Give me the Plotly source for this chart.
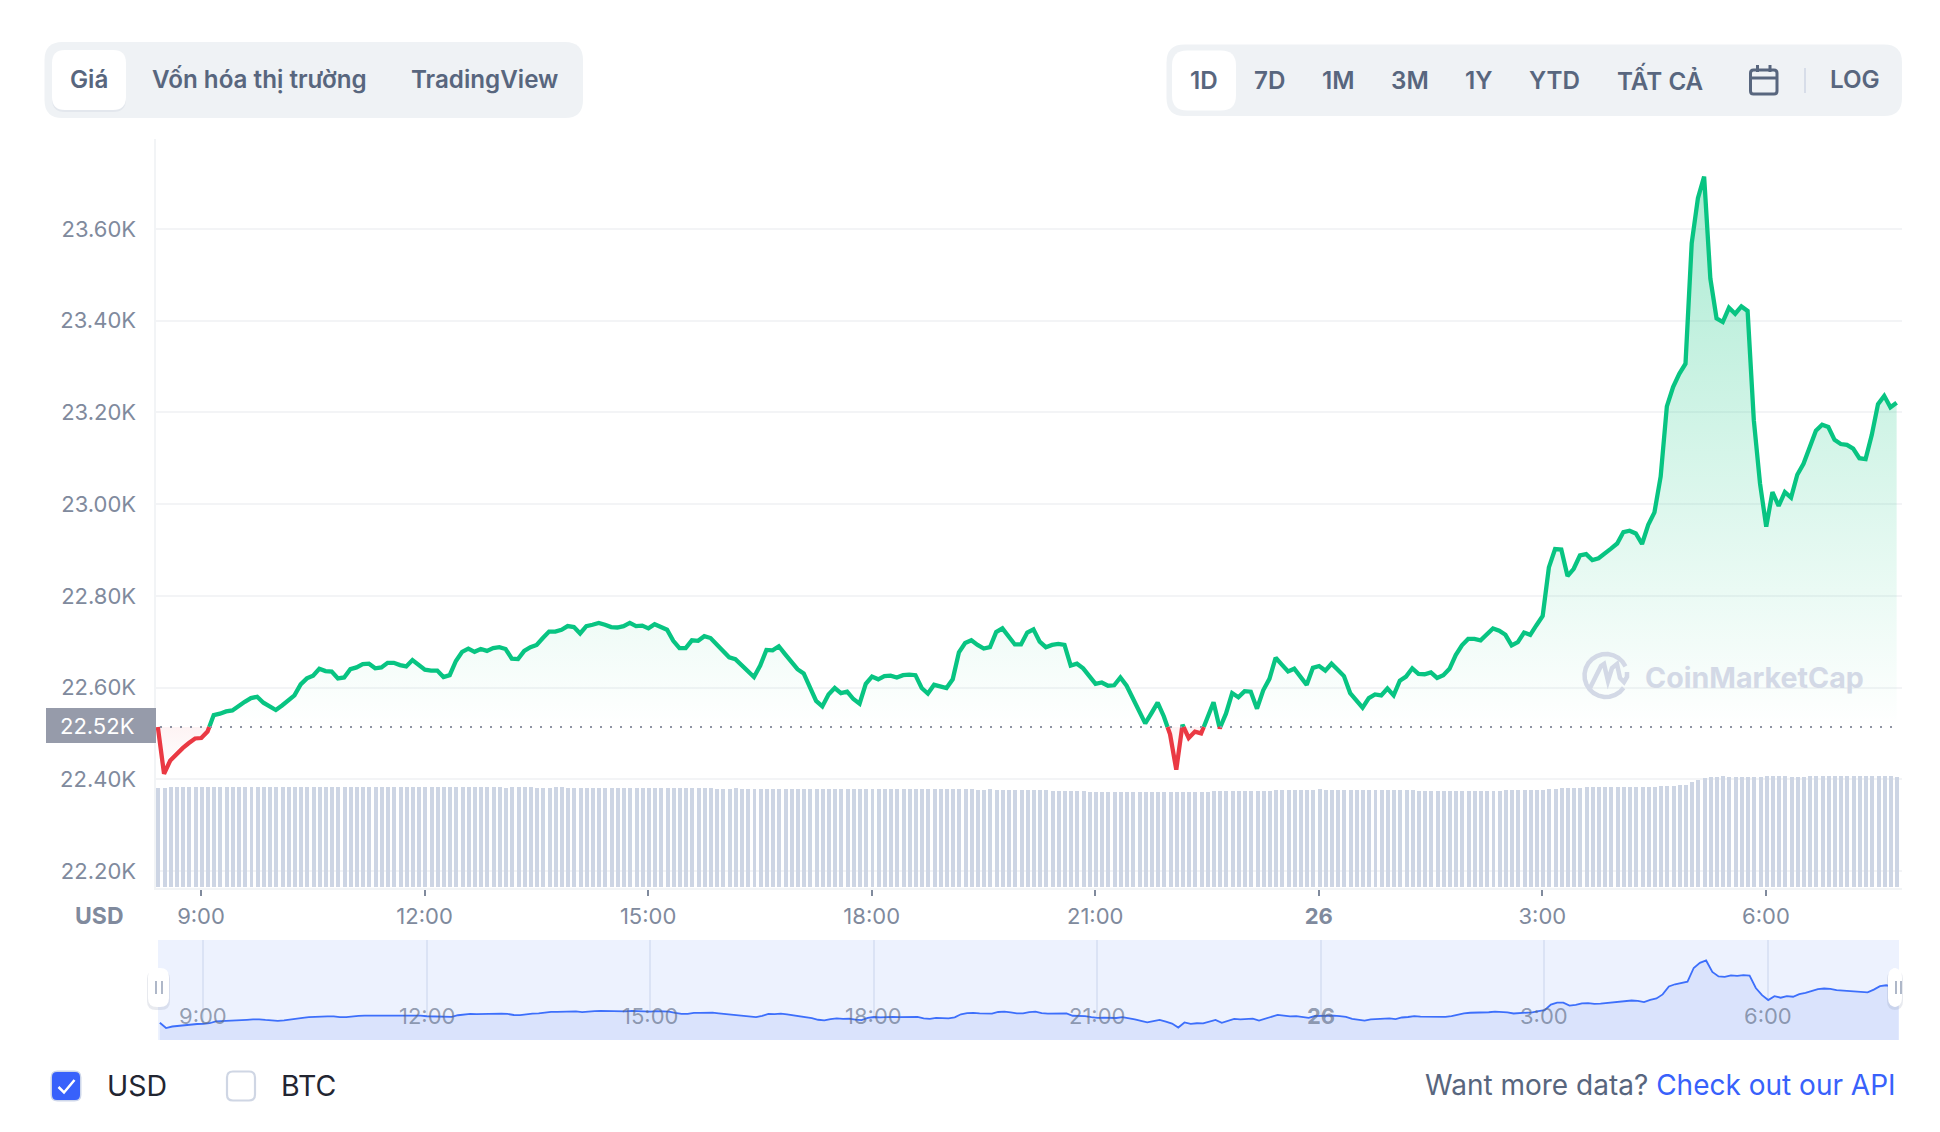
import numpy as np
import pandas as pd
import plotly.graph_objects as go

W, H = 1940, 1132

start_time = "2023-01-25 08:25:15"
step_minutes = 5
baseline_price = 22514
baseline_label = "22.52K"

prices = [
    22514, 22412, 22441, 22455, 22468, 22479, 22489, 22490, 22504, 22540,
    22543, 22548, 22550, 22560, 22569, 22577, 22580, 22567, 22558, 22551,
    22561, 22572, 22583, 22607, 22620, 22626, 22641, 22636, 22635, 22620,
    22622, 22640, 22644, 22651, 22652, 22642, 22644, 22654, 22654, 22649,
    22646, 22660, 22649, 22639, 22637, 22637, 22623, 22627, 22658, 22678,
    22685, 22678, 22684, 22680, 22686, 22688, 22684, 22663, 22662, 22680,
    22688, 22693, 22708, 22722, 22722, 22726, 22734, 22732, 22718, 22734,
    22737, 22741, 22737, 22732, 22731, 22734, 22741, 22734, 22735, 22729,
    22738, 22731, 22726, 22702, 22686, 22686, 22703, 22702, 22712, 22708,
    22694, 22681, 22666, 22662, 22649, 22637, 22623, 22648, 22682, 22681,
    22690, 22673, 22655, 22640, 22631, 22601, 22571, 22559, 22585, 22599,
    22588, 22591, 22575, 22565, 22608, 22624, 22618, 22625, 22626, 22622,
    22627, 22628, 22627, 22599, 22587, 22606, 22602, 22599, 22618, 22677,
    22697, 22703, 22693, 22685, 22688, 22721, 22729, 22712, 22694, 22694,
    22720, 22727, 22700, 22688, 22693, 22695, 22693, 22648, 22652, 22642,
    22623, 22608, 22611, 22604, 22605, 22622, 22604, 22577, 22550, 22522,
    22544, 22567, 22537, 22498, 22421, 22519, 22490, 22504, 22500, 22533,
    22568, 22511, 22543, 22588, 22579, 22592, 22591, 22554, 22594, 22619,
    22665, 22650, 22635, 22641, 22624, 22606, 22643, 22647, 22637, 22652,
    22639, 22625, 22588, 22571, 22556, 22577, 22585, 22583, 22598, 22583,
    22615, 22624, 22642, 22630, 22629, 22633, 22621, 22627, 22641, 22671,
    22692, 22706, 22706, 22703, 22716, 22729, 22724, 22715, 22692, 22699,
    22720, 22715, 22736, 22756, 22862, 22902, 22901, 22843, 22859, 22888,
    22891, 22878, 22882, 22894, 22903, 22914, 22939, 22942, 22936, 22913,
    22955, 22982, 23060, 23213, 23255, 23284, 23306, 23569, 23667, 23714,
    23492, 23405, 23397, 23428, 23415, 23431, 23421, 23183, 23045, 22951,
    23026, 22996, 23026, 23014, 23064, 23088, 23122, 23160, 23173, 23168,
    23140, 23131, 23129, 23121, 23100, 23098, 23151, 23218, 23236, 23211,
    23221,
]

volumes = [
    39.6, 39.7, 40.0, 40.0, 40.0, 40.0, 40.0, 40.0, 40.0, 40.0,
    40.0, 40.0, 40.0, 40.0, 40.0, 40.0, 40.0, 40.0, 40.0, 39.9,
    39.8, 39.8, 39.9, 40.0, 40.0, 40.0, 40.0, 40.0, 40.0, 40.0,
    40.0, 40.0, 39.8, 39.8, 39.9, 40.0, 40.0, 40.0, 40.0, 40.0,
    40.0, 40.0, 40.0, 40.0, 39.8, 39.8, 39.8, 39.8, 39.8, 39.8,
    40.0, 40.0, 40.0, 39.8, 39.8, 39.8, 39.7, 39.8, 39.8, 39.8,
    39.8, 39.7, 39.7, 39.7, 39.8, 39.8, 39.7, 39.7, 39.6, 39.6,
    39.6, 39.6, 39.7, 39.6, 39.6, 39.5, 39.5, 39.6, 39.6, 39.5,
    39.4, 39.4, 39.4, 39.5, 39.4, 39.4, 39.4, 39.4, 39.4, 39.4,
    39.3, 39.3, 39.3, 39.4, 39.3, 39.3, 39.3, 39.2, 39.3, 39.3,
    39.2, 39.2, 39.2, 39.2, 39.3, 39.2, 39.2, 39.2, 39.2, 39.2,
    39.2, 39.1, 39.1, 39.2, 39.1, 39.1, 39.1, 39.1, 39.1, 39.1,
    39.1, 39.0, 39.0, 39.1, 39.0, 39.0, 39.0, 39.0, 39.0, 39.0,
    39.0, 39.0, 38.9, 38.9, 39.0, 38.9, 38.9, 38.9, 38.9, 38.9,
    38.8, 38.8, 38.6, 38.6, 38.5, 38.4, 38.4, 38.3, 38.2, 38.2,
    38.1, 38.1, 38.0, 38.0, 38.0, 38.0, 38.0, 38.0, 38.0, 38.0,
    38.0, 38.0, 38.0, 38.0, 37.8, 38.0, 38.0, 38.0, 38.0, 38.0,
    38.4, 38.4, 38.4, 38.4, 38.4, 38.4, 38.4, 38.4, 38.4, 38.4,
    38.8, 38.8, 38.8, 38.8, 38.8, 38.8, 38.8, 39.2, 38.8, 38.8,
    38.8, 38.8, 38.8, 38.8, 38.8, 38.8, 38.8, 38.8, 38.8, 38.8,
    38.8, 38.8, 38.8, 38.4, 38.4, 38.4, 38.4, 38.4, 38.4, 38.4,
    38.4, 38.4, 38.4, 38.4, 38.4, 38.4, 38.4, 38.8, 38.8, 38.8,
    38.8, 38.8, 38.8, 38.8, 39.0, 39.0, 39.5, 39.5, 39.5, 39.5,
    39.9, 39.9, 39.9, 39.9, 39.9, 39.9, 39.9, 39.9, 39.9, 40.0,
    40.0, 40.0, 40.2, 40.3, 40.5, 40.6, 40.8, 41.8, 42.9, 43.6,
    44.0, 44.0, 44.4, 44.0, 44.0, 44.0, 43.8, 43.8, 44.0, 44.4,
    44.4, 44.4, 44.4, 44.0, 44.0, 44.0, 44.4, 44.4, 44.4, 44.4,
    44.4, 44.4, 44.4, 44.4, 44.4, 44.4, 44.4, 44.4, 44.4, 44.4,
    44.0,
]

y_tick_values = [22200, 22400, 22600, 22800, 23000, 23200, 23400, 23600]
y_tick_labels = ["22.20K", "22.40K", "22.60K", "22.80K", "23.00K", "23.20K", "23.40K", "23.60K"]
x_tick_values = ["2023-01-25 09:00", "2023-01-25 12:00", "2023-01-25 15:00", "2023-01-25 18:00",
                 "2023-01-25 21:00", "2023-01-26 00:00", "2023-01-26 03:00", "2023-01-26 06:00"]
x_tick_labels = ["9:00", "12:00", "15:00", "18:00", "21:00", "<b>26</b>", "3:00", "6:00"]
left_tabs = ["Giá", "Vốn hóa thị trường", "TradingView"]
right_tabs = ["1D", "7D", "1M", "3M", "1Y", "YTD", "TẤT CẢ", "LOG"]

assert len(prices) == len(volumes) == 281, (len(prices), len(volumes))

GREEN, RED, SLATE, GREY, BLUE = "#08c482", "#ea3943", "#58667e", "#808a9d", "#3861fb"
FONT = "Inter"


def px(x):
    return x / W


def py(y):
    return 1 - y / H


def poly(points, close=False):
    s = "M" + " L".join(f"{px(x):.6f},{py(y):.6f}" for x, y in points)
    return s + (" Z" if close else "")


def rrect(x0, y0, x1, y1, r):
    p = lambda x, y: f"{px(x):.6f},{py(y):.6f}"
    return (f"M{p(x0 + r, y0)} L{p(x1 - r, y0)} Q{p(x1, y0)} {p(x1, y0 + r)} "
            f"L{p(x1, y1 - r)} Q{p(x1, y1)} {p(x1 - r, y1)} L{p(x0 + r, y1)} "
            f"Q{p(x0, y1)} {p(x0, y1 - r)} L{p(x0, y0 + r)} Q{p(x0, y0)} {p(x0 + r, y0)} Z")


def shape_path(path, fill=None, line=None, width=0, layer="below"):
    return dict(type="path", xref="paper", yref="paper", path=path, layer=layer,
                fillcolor=fill or "rgba(0,0,0,0)",
                line=dict(color=line or "rgba(0,0,0,0)", width=width))


def label(x, y, text, size, color, weight=400, anchor="center"):
    return dict(xref="paper", yref="paper", x=px(x), y=py(y), text=text, showarrow=False,
                xanchor=anchor, yanchor="middle",
                font=dict(family=FONT, size=size, color=color, weight=weight))


times = pd.date_range(start_time, periods=len(prices), freq=f"{step_minutes}min")
t0 = pd.Timestamp("2023-01-25 09:00")
to_time = lambda x, x900: t0 + pd.Timedelta(hours=(x - x900) / 74.52)

# split the line where it crosses the baseline
tn = times.astype("int64").to_numpy(dtype=float)
pv = np.array(prices, dtype=float)
xs, ys = [], []
for i in range(len(pv)):
    if i and (pv[i - 1] - baseline_price) * (pv[i] - baseline_price) < 0:
        f = (baseline_price - pv[i - 1]) / (pv[i] - pv[i - 1])
        xs.append(tn[i - 1] + f * (tn[i] - tn[i - 1]))
        ys.append(float(baseline_price))
    xs.append(tn[i])
    ys.append(pv[i])
xs = pd.to_datetime(np.array(xs, dtype="int64"))
ys = np.array(ys)
upper = np.where(ys >= baseline_price, ys, None)
lower = np.where(ys <= baseline_price, ys, None)

fig = go.Figure()
fig.add_trace(go.Scatter(x=xs, y=np.full(len(ys), baseline_price), mode="lines",
                         line=dict(width=0), hoverinfo="skip", showlegend=False))
fig.add_trace(go.Scatter(
    x=xs, y=np.maximum(ys, baseline_price), mode="lines", line=dict(width=0), fill="tonexty",
    fillgradient=dict(type="vertical", start=baseline_price, stop=max(prices),
                      colorscale=[[0, "rgba(22,199,132,0)"], [1, "rgba(22,199,132,0.36)"]]),
    hoverinfo="skip", showlegend=False))
fig.add_trace(go.Scatter(x=xs, y=np.full(len(ys), baseline_price), mode="lines",
                         line=dict(width=0), hoverinfo="skip", showlegend=False))
fig.add_trace(go.Scatter(
    x=xs, y=np.minimum(ys, baseline_price), mode="lines", line=dict(width=0), fill="tonexty",
    fillgradient=dict(type="vertical", start=min(prices), stop=baseline_price,
                      colorscale=[[0, "rgba(234,57,67,0)"], [1, "rgba(234,57,67,0.06)"]]),
    hoverinfo="skip", showlegend=False))
fig.add_trace(go.Scatter(x=xs, y=upper, mode="lines", connectgaps=False,
                         line=dict(color=GREEN, width=4.3), showlegend=False))
fig.add_trace(go.Scatter(x=xs, y=lower, mode="lines", connectgaps=False,
                         line=dict(color=RED, width=4.3), showlegend=False))
fig.add_trace(go.Bar(x=times, y=volumes, yaxis="y2", marker=dict(color="#cdd5e4", line=dict(width=0)),
                     width=1000 * 60 * step_minutes * 0.64, showlegend=False))
fig.add_trace(go.Scatter(x=times, y=prices, xaxis="x2", yaxis="y3", mode="lines", fill="tozeroy",
                         fillcolor="#dae3fc", line=dict(color="#3d6ffb", width=1.8), showlegend=False))

shapes = [
    shape_path(rrect(44.5, 42, 583, 118, 18), "#eff2f5"),
    shape_path(rrect(52, 52, 126, 112, 13), "#e3e7ed"),
    shape_path(rrect(52, 50, 126, 110, 13), "#ffffff"),
    shape_path(rrect(1166.5, 44.5, 1902, 116, 18), "#eff2f5"),
    shape_path(rrect(1172, 50.5, 1236, 110.5, 15), "#ffffff"),
    shape_path(rrect(1750.5, 70, 1777, 94, 3), None, SLATE, 3),
    shape_path(poly([(1750.5, 78), (1777, 78)]), None, SLATE, 3),
    shape_path(poly([(1757.5, 65), (1757.5, 72)]), None, SLATE, 3),
    shape_path(poly([(1770, 65), (1770, 72)]), None, SLATE, 3),
    shape_path(poly([(1805, 68), (1805, 93)]), None, "#cfd6e4", 1.5),
    # value box and baseline
    shape_path(rrect(46, 708, 156, 743, 0.01), "#969baa", layer="above"),
    dict(type="line", xref="paper", x0=px(160), x1=px(1899), yref="y", y0=baseline_price,
         y1=baseline_price, layer="above", line=dict(color="#8f94a3", width=2, dash="2px,8px")),
    # navigator background
    shape_path(rrect(158, 940, 1899, 1040, 0.01), "#edf2fe"),
    # check boxes
    shape_path(rrect(50.5, 1070.5, 81.5, 1101.5, 7), "#cdd6ea"),
    shape_path(rrect(52, 1072, 80, 1100, 5), BLUE),
    shape_path(poly([(58.5, 1087), (64, 1092.5), (74.5, 1080)]), None, "#ffffff", 2.5),
    shape_path(rrect(227, 1071.5, 255, 1100.5, 6), "#ffffff", "#cfd6e4", 2.2),
]

# navigator handles
for x0, x1 in ((148, 169), (1888, 1902)):
    shapes.append(shape_path(rrect(x0 - 1, 970, x1 + 1, 1010, 9), "rgba(130,140,165,0.18)", layer="above"))
    shapes.append(shape_path(rrect(x0, 968, x1, 1007, 9), "#ffffff", layer="above"))
for xg in (156, 162, 1896, 1901):
    shapes.append(shape_path(poly([(xg, 981), (xg, 994)]), None, "#a6b0c3", 1.8, layer="above"))

# watermark logo
theta = np.radians(np.arange(35, 345, 15))
cx, cy, r = 1606, 675.5, 21.5
circle = [(cx + r * np.cos(a), cy + r * np.sin(a)) for a in theta]
shapes.append(shape_path(poly(circle), None, "#d3d9e6", 4.5, layer="above"))
shapes.append(shape_path(poly([(1590, 688), (1601, 666), (1604, 664), (1608, 681), (1612, 668),
                               (1617, 664), (1620, 678), (1624, 682), (1627, 677), (1627, 672)]),
                         None, "#d3d9e6", 4.5, layer="above"))

annotations = []
for tab, xc in zip(left_tabs, (89, 259.5, 484)):
    annotations.append(label(xc, 79.5, tab, 24.2, SLATE, 600))
for tab, yc, xc in zip(right_tabs, (80, 80, 80, 80, 80, 80, 79, 79.5),
                       (1203.5, 1269.5, 1338.5, 1409.5, 1478.5, 1554.5, 1660.5, 1854.5)):
    annotations.append(label(xc, yc, tab, 24.2, SLATE, 600))
annotations.append(label(97.5, 726, baseline_label, 22, "#ffffff", 400))
annotations.append(label(99, 916, "USD", 23, GREY, 700))
annotations.append(label(1643, 677.5, "CoinMarketCap", 28.6, "#d3d9e6", 700, "left"))
annotations.append(label(105, 1085, "USD", 28.5, "#222531", 400, "left"))
annotations.append(label(279, 1085, "BTC", 28.5, "#222531", 400, "left"))
annotations.append(label(1898, 1085, f"Want more data? <span style='color:{BLUE}'>Check out our API</span>",
                         28, SLATE, 400, "right"))
for xv, tx in zip(x_tick_values, x_tick_labels):
    annotations.append(dict(xref="x2", yref="paper", x=xv, y=py(1016), text=tx, showarrow=False,
                            xanchor="center", yanchor="middle",
                            font=dict(family=FONT, size=22, color="rgba(88,102,126,0.62)")))

fig.update_layout(
    width=W, height=H, autosize=False, margin=dict(l=0, r=0, t=0, b=0),
    paper_bgcolor="#ffffff", plot_bgcolor="rgba(0,0,0,0)",
    font=dict(family=FONT, color=GREY), bargap=0, showlegend=False,
    shapes=shapes, annotations=annotations,
    xaxis=dict(domain=[px(155.5), px(1902)], range=[to_time(155.5, 201), to_time(1902, 201)],
               anchor="y", type="date", tickmode="array", tickvals=x_tick_values, ticktext=x_tick_labels,
               ticks="outside", ticklen=6, tickwidth=1.5, tickcolor="#808a9d",
               tickfont=dict(family=FONT, size=22, color=GREY), ticklabelstandoff=2,
               showgrid=False, showline=True, linecolor="#f2f4f6", linewidth=2, zeroline=False),
    yaxis=dict(domain=[py(888), py(139)], range=[22163, 23796], anchor="x",
               tickmode="array", tickvals=y_tick_values, ticktext=y_tick_labels,
               ticks="outside", ticklen=13, tickcolor="rgba(0,0,0,0)",
               tickfont=dict(family=FONT, size=22, color=GREY),
               showgrid=True, gridcolor="#f3f4f6", gridwidth=1.5,
               showline=True, linecolor="#f2f4f6", linewidth=2, zeroline=False),
    yaxis2=dict(overlaying="y", range=[-0.4, 298.8], visible=False, anchor="x"),
    xaxis2=dict(domain=[px(158), px(1899)], range=[to_time(158, 203), to_time(1899, 203)],
                anchor="y3", type="date", tickmode="array", tickvals=x_tick_values, ticktext=x_tick_labels,
                showticklabels=False, ticks="", showgrid=True, gridcolor="#dbe3f5", gridwidth=1.5,
                showline=False, zeroline=False),
    yaxis3=dict(domain=[py(1040), py(940)], range=[22181, 24108], anchor="x2", visible=False),
)

fig.write_html("out.html", config=dict(displayModeBar=False),
               post_script="document.body.style.margin='0';")
